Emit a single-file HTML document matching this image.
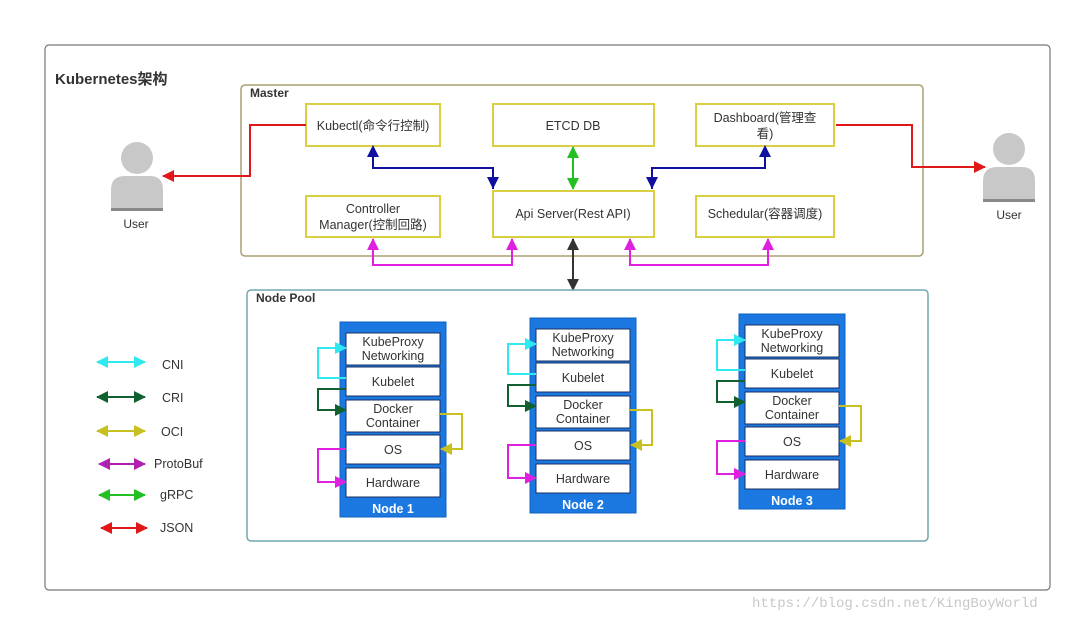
<!DOCTYPE html>
<html><head><meta charset="utf-8"><style>
html,body{margin:0;padding:0;background:#fff;}
svg{display:block;font-family:"Liberation Sans","Noto Sans CJK SC",sans-serif;}
</style></head><body>
<svg width="1080" height="620" viewBox="0 0 1080 620" xmlns="http://www.w3.org/2000/svg">
<defs>
<marker id="mb" viewBox="0 0 10 10" refX="9" refY="5" markerWidth="5" markerHeight="5" orient="auto-start-reverse" markerUnits="userSpaceOnUse" style="overflow:visible"><path d="M0,0 L10,5 L0,10z" fill="#1010a0" transform="scale(1.2)"/></marker>
<marker id="mg" viewBox="0 0 12 12" refX="11" refY="6" markerWidth="12" markerHeight="12" orient="auto-start-reverse" markerUnits="userSpaceOnUse"><path d="M0,0 L12,6 L0,12z" fill="#22c022"/></marker>
<marker id="mk" viewBox="0 0 12 12" refX="11" refY="6" markerWidth="12" markerHeight="12" orient="auto-start-reverse" markerUnits="userSpaceOnUse"><path d="M0,0 L12,6 L0,12z" fill="#333"/></marker>
<marker id="mm" viewBox="0 0 12 12" refX="11" refY="6" markerWidth="12" markerHeight="12" orient="auto-start-reverse" markerUnits="userSpaceOnUse"><path d="M0,0 L12,6 L0,12z" fill="#e020e0"/></marker>
<marker id="mr" viewBox="0 0 12 12" refX="11" refY="6" markerWidth="12" markerHeight="12" orient="auto-start-reverse" markerUnits="userSpaceOnUse"><path d="M0,0 L12,6 L0,12z" fill="#e01818"/></marker>
<marker id="mc" viewBox="0 0 12 12" refX="11" refY="6" markerWidth="12" markerHeight="12" orient="auto-start-reverse" markerUnits="userSpaceOnUse"><path d="M0,0 L12,6 L0,12z" fill="#30e8f0"/></marker>
<marker id="md" viewBox="0 0 12 12" refX="11" refY="6" markerWidth="12" markerHeight="12" orient="auto-start-reverse" markerUnits="userSpaceOnUse"><path d="M0,0 L12,6 L0,12z" fill="#106030"/></marker>
<marker id="my" viewBox="0 0 12 12" refX="11" refY="6" markerWidth="12" markerHeight="12" orient="auto-start-reverse" markerUnits="userSpaceOnUse"><path d="M0,0 L12,6 L0,12z" fill="#c8c020"/></marker>
<marker id="mp" viewBox="0 0 12 12" refX="11" refY="6" markerWidth="12" markerHeight="12" orient="auto-start-reverse" markerUnits="userSpaceOnUse"><path d="M0,0 L12,6 L0,12z" fill="#b020b0"/></marker>
</defs>
<rect x="45" y="45" width="1005" height="545" rx="4" fill="#fff" stroke="#777" stroke-width="1.2"/>
<text x="55" y="84" font-size="15" font-weight="bold" fill="#333">Kubernetes架构</text>

<rect x="241" y="85" width="682" height="171" rx="4" fill="#fff" stroke="#a8a070" stroke-width="1.5"/>
<text x="250" y="97" font-size="12" font-weight="bold" fill="#333">Master</text>

<g fill="#fff" stroke="#d8d040" stroke-width="2">
<rect x="306" y="104" width="134" height="42"/>
<rect x="493" y="104" width="161" height="42"/>
<rect x="696" y="104" width="138" height="42"/>
<rect x="306" y="196" width="134" height="41"/>
<rect x="493" y="191" width="161" height="46"/>
<rect x="696" y="196" width="138" height="41"/>
</g>
<g font-size="12.5" fill="#333" text-anchor="middle">
<text x="373" y="130">Kubectl(命令行控制)</text>
<text x="573" y="130">ETCD DB</text>
<text x="765" y="122">Dashboard(管理查</text>
<text x="765" y="138">看)</text>
<text x="373" y="213">Controller</text>
<text x="373" y="229">Manager(控制回路)</text>
<text x="573" y="218">Api Server(Rest API)</text>
<text x="765" y="218">Schedular(容器调度)</text>
</g>

<g fill="none" stroke-width="2">
<path d="M373,148 V168 H493 V189" stroke="#1010a0" marker-start="url(#mg)" marker-end="url(#mg)" style="marker:none"/>
</g>
<!-- blue -->
<path d="M373,147 V168 H493 V189" fill="none" stroke="#1010a0" stroke-width="2"/>
<path d="M367,157 L373,145 L379,157z M487,177 L493,189 L499,177z" fill="#1010a0"/>
<path d="M765,147 V168 H652 V189" fill="none" stroke="#1010a0" stroke-width="2"/>
<path d="M759,157 L765,145 L771,157z M646,177 L652,189 L658,177z" fill="#1010a0"/>
<!-- green -->
<path d="M573,147 V189" fill="none" stroke="#22c022" stroke-width="2" marker-start="url(#mg)" marker-end="url(#mg)"/>
<!-- magenta -->
<path d="M373,239 V265 H512 V239" fill="none" stroke="#e020e0" stroke-width="2" marker-start="url(#mm)" marker-end="url(#mm)"/>
<path d="M630,239 V265 H768 V239" fill="none" stroke="#e020e0" stroke-width="2" marker-start="url(#mm)" marker-end="url(#mm)"/>
<!-- black -->
<path d="M573,239 V290" fill="none" stroke="#333" stroke-width="2" marker-start="url(#mk)" marker-end="url(#mk)"/>
<!-- red -->
<path d="M306,125 H250 V176 H163" fill="none" stroke="#e01818" stroke-width="2" marker-end="url(#mr)"/>
<path d="M836,125 H912 V167 H985" fill="none" stroke="#e01818" stroke-width="2" marker-end="url(#mr)"/>

<!-- users -->
<g fill="#c8c8c8">
<circle cx="137" cy="158" r="16"/>
<path d="M111,210 V190 Q111,176 125,176 H150 Q163,176 163,190 V210z"/>
<rect x="111" y="208" width="52" height="3" fill="#888"/>
<circle cx="1009" cy="149" r="16"/>
<path d="M983,201 V181 Q983,167 997,167 H1022 Q1035,167 1035,181 V201z"/>
<rect x="983" y="199" width="52" height="3" fill="#888"/>
</g>
<text x="136" y="228" font-size="12" fill="#333" text-anchor="middle">User</text>
<text x="1009" y="219" font-size="12" fill="#333" text-anchor="middle">User</text>

<rect x="247" y="290" width="681" height="251" rx="4" fill="none" stroke="#70a8b0" stroke-width="1.5"/>
<text x="256" y="302" font-size="12" font-weight="bold" fill="#333">Node Pool</text>

<g id="n1" transform="translate(340,322)">
<rect x="0" y="0" width="106" height="195" fill="#1a78e0" stroke="#1060c0"/>
<g fill="#fff" stroke="#1a3060" stroke-width="1">
<rect x="6" y="11" width="94" height="32"/><rect x="6" y="45" width="94" height="29"/>
<rect x="6" y="78" width="94" height="32"/><rect x="6" y="113" width="94" height="29"/>
<rect x="6" y="146" width="94" height="29"/>
</g>
<g font-size="12.5" fill="#333" text-anchor="middle">
<text x="53" y="24">KubeProxy</text><text x="53" y="38">Networking</text>
<text x="53" y="64">Kubelet</text>
<text x="53" y="91">Docker</text><text x="53" y="105">Container</text>
<text x="53" y="132">OS</text><text x="53" y="165">Hardware</text>
</g>
<text x="53" y="191" font-size="12.5" font-weight="bold" fill="#fff" text-anchor="middle">Node 1</text>
<path d="M6,56 H-22 V26 H6" fill="none" stroke="#30e8f0" stroke-width="2" marker-end="url(#mc)"/>
<path d="M6,67 H-22 V88 H6" fill="none" stroke="#106030" stroke-width="2" marker-end="url(#md)"/>
<path d="M6,127 H-22 V160 H6" fill="none" stroke="#e020e0" stroke-width="2" marker-end="url(#mm)"/>
<path d="M100,92 H122 V127 H101" fill="none" stroke="#c8c020" stroke-width="2" marker-end="url(#my)"/>
</g>
<g transform="translate(530,318)">
<rect x="0" y="0" width="106" height="195" fill="#1a78e0" stroke="#1060c0"/>
<g fill="#fff" stroke="#1a3060" stroke-width="1">
<rect x="6" y="11" width="94" height="32"/><rect x="6" y="45" width="94" height="29"/>
<rect x="6" y="78" width="94" height="32"/><rect x="6" y="113" width="94" height="29"/>
<rect x="6" y="146" width="94" height="29"/>
</g>
<g font-size="12.5" fill="#333" text-anchor="middle">
<text x="53" y="24">KubeProxy</text><text x="53" y="38">Networking</text>
<text x="53" y="64">Kubelet</text>
<text x="53" y="91">Docker</text><text x="53" y="105">Container</text>
<text x="53" y="132">OS</text><text x="53" y="165">Hardware</text>
</g>
<text x="53" y="191" font-size="12.5" font-weight="bold" fill="#fff" text-anchor="middle">Node 2</text>
<path d="M6,56 H-22 V26 H6" fill="none" stroke="#30e8f0" stroke-width="2" marker-end="url(#mc)"/>
<path d="M6,67 H-22 V88 H6" fill="none" stroke="#106030" stroke-width="2" marker-end="url(#md)"/>
<path d="M6,127 H-22 V160 H6" fill="none" stroke="#e020e0" stroke-width="2" marker-end="url(#mm)"/>
<path d="M100,92 H122 V127 H101" fill="none" stroke="#c8c020" stroke-width="2" marker-end="url(#my)"/>
</g>
<g transform="translate(739,314)">
<rect x="0" y="0" width="106" height="195" fill="#1a78e0" stroke="#1060c0"/>
<g fill="#fff" stroke="#1a3060" stroke-width="1">
<rect x="6" y="11" width="94" height="32"/><rect x="6" y="45" width="94" height="29"/>
<rect x="6" y="78" width="94" height="32"/><rect x="6" y="113" width="94" height="29"/>
<rect x="6" y="146" width="94" height="29"/>
</g>
<g font-size="12.5" fill="#333" text-anchor="middle">
<text x="53" y="24">KubeProxy</text><text x="53" y="38">Networking</text>
<text x="53" y="64">Kubelet</text>
<text x="53" y="91">Docker</text><text x="53" y="105">Container</text>
<text x="53" y="132">OS</text><text x="53" y="165">Hardware</text>
</g>
<text x="53" y="191" font-size="12.5" font-weight="bold" fill="#fff" text-anchor="middle">Node 3</text>
<path d="M6,56 H-22 V26 H6" fill="none" stroke="#30e8f0" stroke-width="2" marker-end="url(#mc)"/>
<path d="M6,67 H-22 V88 H6" fill="none" stroke="#106030" stroke-width="2" marker-end="url(#md)"/>
<path d="M6,127 H-22 V160 H6" fill="none" stroke="#e020e0" stroke-width="2" marker-end="url(#mm)"/>
<path d="M100,92 H122 V127 H101" fill="none" stroke="#c8c020" stroke-width="2" marker-end="url(#my)"/>
</g>

<!-- legend -->
<g stroke-width="2" fill="none">
<path d="M97,362 H145" stroke="#30e8f0" marker-start="url(#mc)" marker-end="url(#mc)"/>
<path d="M97,397 H145" stroke="#106030" marker-start="url(#md)" marker-end="url(#md)"/>
<path d="M97,431 H145" stroke="#c8c020" marker-start="url(#my)" marker-end="url(#my)"/>
<path d="M99,464 H145" stroke="#b020b0" marker-start="url(#mp)" marker-end="url(#mp)"/>
<path d="M99,495 H145" stroke="#22c022" marker-start="url(#mg)" marker-end="url(#mg)"/>
<path d="M101,528 H147" stroke="#e01818" marker-start="url(#mr)" marker-end="url(#mr)"/>
</g>
<g font-size="12.5" fill="#333">
<text x="162" y="369">CNI</text><text x="162" y="402">CRI</text><text x="161" y="436">OCI</text>
<text x="154" y="468">ProtoBuf</text><text x="160" y="499">gRPC</text><text x="160" y="532">JSON</text>
</g>
<text x="752" y="607" font-size="14" fill="#c8c8c8" font-family="Liberation Mono, monospace">https://blog.csdn.net/KingBoyWorld</text>
</svg>
</body></html>
